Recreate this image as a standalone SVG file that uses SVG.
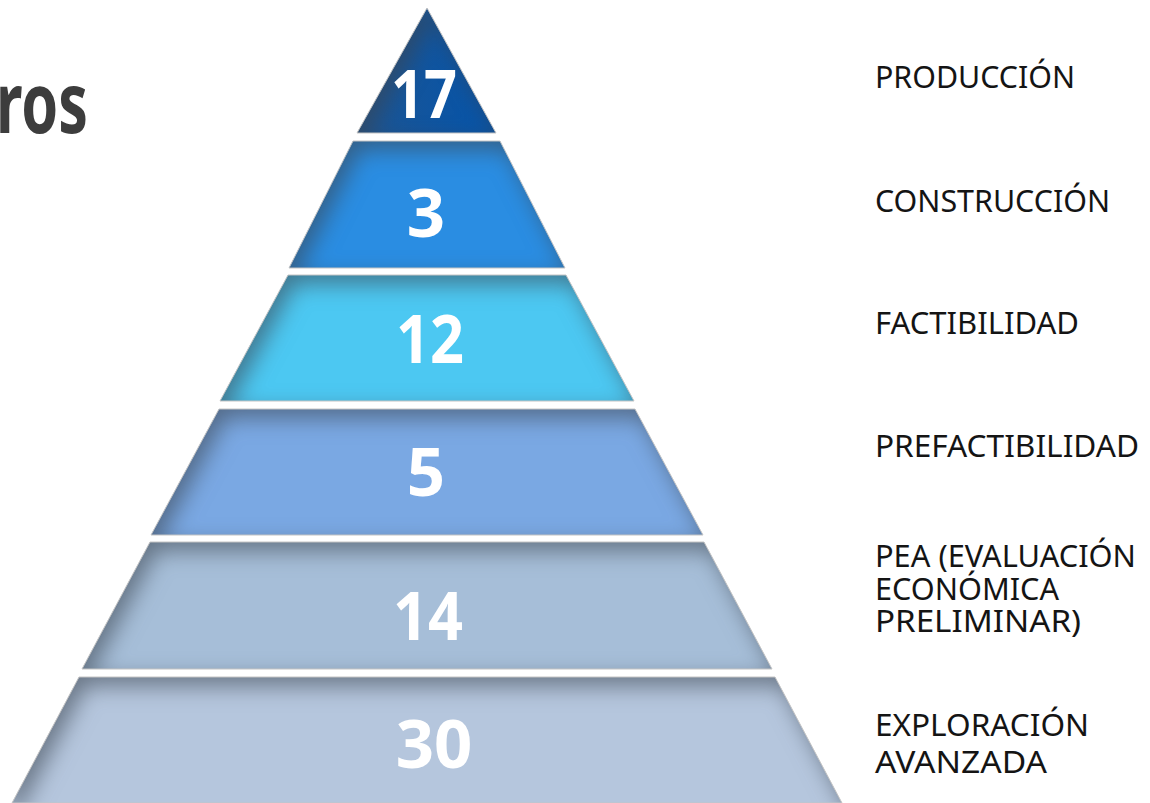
<svg xmlns="http://www.w3.org/2000/svg" xmlns:xlink="http://www.w3.org/1999/xlink" width="1150" height="803" viewBox="0 0 1150 803">
  <style>
    .num { font-family: "Noto Sans", "Open Sans", sans-serif; font-weight: 700; font-size: 67px; fill: #ffffff; text-anchor: middle; }
    .lbl { font-family: "Noto Sans", "Open Sans", sans-serif; font-weight: 380; font-size: 31.5px; fill: #141414; }
    .title { font-family: "Noto Sans", "Open Sans", sans-serif; font-weight: 700; font-size: 84px; fill: #3d3d3d; }
    .edge { fill: none; stroke: #c4c4c4; stroke-width: 1; }
  </style>
  <defs>
    <filter id="inset" filterUnits="userSpaceOnUse" x="0" y="0" width="1150" height="803" color-interpolation-filters="sRGB">
      <feComponentTransfer in="SourceAlpha" result="inv">
        <feFuncA type="table" tableValues="1 0"/>
      </feComponentTransfer>
      <feGaussianBlur in="inv" stdDeviation="11" result="blur"/>
      <feOffset in="blur" dx="7" dy="9" result="off"/>
      <feFlood flood-color="#3a4450" flood-opacity="0.6" result="col"/>
      <feComposite in="col" in2="off" operator="in" result="sh"/>
      <feComposite in="sh" in2="SourceAlpha" operator="in" result="shin"/>
      <feMerge>
        <feMergeNode in="SourceGraphic"/>
        <feMergeNode in="shin"/>
      </feMerge>
    </filter>
    <linearGradient id="g1" x1="0" y1="0" x2="1" y2="0">
      <stop offset="0" stop-color="#1d5592"/>
      <stop offset="1" stop-color="#0454ab"/>
    </linearGradient>
    <polygon id="p1" points="427,8 496,133 357,133"/>
    <polygon id="p2" points="353,141 500,141 565,268 289,268"/>
    <polygon id="p3" points="288,275 566,275 634,401 220,401"/>
    <polygon id="p4" points="219,409 635,409 703,535 151,535"/>
    <polygon id="p5" points="150,542 704,542 772,669 82,669"/>
    <polygon id="p6" points="79,677 775,677 842,803 12,803"/>
  </defs>

  <rect width="1150" height="803" fill="#ffffff"/>

  <g id="title">
    <text class="title" x="-4" y="133" textLength="92" lengthAdjust="spacingAndGlyphs">ros</text>
  </g>

  <g id="layer-produccion">
    <use xlink:href="#p1" fill="url(#g1)" filter="url(#inset)"/>
    <use xlink:href="#p1" class="edge"/>
    <text class="num" x="424" y="118" textLength="66" lengthAdjust="spacingAndGlyphs">17</text>
    <text class="lbl" x="875" y="88" textLength="200" lengthAdjust="spacingAndGlyphs">PRODUCCIÓN</text>
  </g>

  <g id="layer-construccion">
    <use xlink:href="#p2" fill="#2a8de2" filter="url(#inset)"/>
    <use xlink:href="#p2" class="edge"/>
    <text class="num" x="426" y="237">3</text>
    <text class="lbl" x="875" y="212" textLength="235" lengthAdjust="spacingAndGlyphs">CONSTRUCCIÓN</text>
  </g>

  <g id="layer-factibilidad">
    <use xlink:href="#p3" fill="#4cc8f2" filter="url(#inset)"/>
    <use xlink:href="#p3" class="edge"/>
    <text class="num" x="430" y="363" textLength="68" lengthAdjust="spacingAndGlyphs">12</text>
    <text class="lbl" x="875" y="334" textLength="204" lengthAdjust="spacingAndGlyphs">FACTIBILIDAD</text>
  </g>

  <g id="layer-prefactibilidad">
    <use xlink:href="#p4" fill="#7aa8e3" filter="url(#inset)"/>
    <use xlink:href="#p4" class="edge"/>
    <text class="num" x="426" y="496">5</text>
    <text class="lbl" x="875" y="457" textLength="264" lengthAdjust="spacingAndGlyphs">PREFACTIBILIDAD</text>
  </g>

  <g id="layer-pea">
    <use xlink:href="#p5" fill="#a6bed8" filter="url(#inset)"/>
    <use xlink:href="#p5" class="edge"/>
    <text class="num" x="428" y="640" textLength="70" lengthAdjust="spacingAndGlyphs">14</text>
    <text class="lbl" x="875" y="567" textLength="261" lengthAdjust="spacingAndGlyphs">PEA (EVALUACIÓN</text>
    <text class="lbl" x="875" y="599.5" textLength="184" lengthAdjust="spacingAndGlyphs">ECONÓMICA</text>
    <text class="lbl" x="875" y="632" textLength="206" lengthAdjust="spacingAndGlyphs">PRELIMINAR)</text>
  </g>

  <g id="layer-exploracion">
    <use xlink:href="#p6" fill="#b5c6dd" filter="url(#inset)"/>
    <use xlink:href="#p6" class="edge"/>
    <text class="num" x="434" y="768">30</text>
    <text class="lbl" x="875" y="735.5" textLength="214" lengthAdjust="spacingAndGlyphs">EXPLORACIÓN</text>
    <text class="lbl" x="875" y="773" textLength="172" lengthAdjust="spacingAndGlyphs">AVANZADA</text>
  </g>

  <g id="connectors"></g>
</svg>
